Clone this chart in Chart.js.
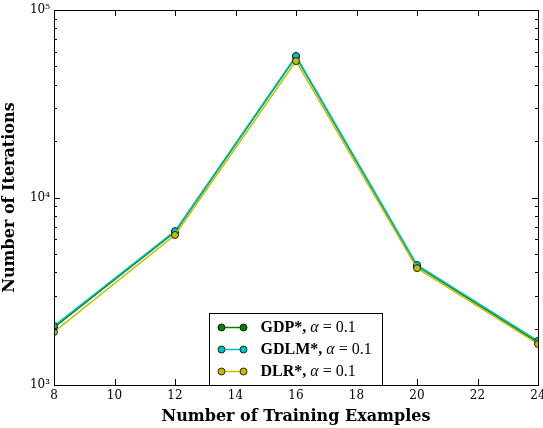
<!DOCTYPE html>
<html>
<head>
<meta charset="utf-8">
<script src="https://cdn.jsdelivr.net/npm/chart.js@4"></script>
<style>
  html, body { margin: 0; padding: 0; background: #fff; }
  #wrap { width: 543px; height: 428px; position: relative; }
</style>
</head>
<body>
<div id="wrap"><canvas id="chart"></canvas></div>
<script>
const trainingExamples = [8, 12, 16, 20, 24];
const gdpIterations = [2030, 6550, 56200, 4310, 1690];
const gdlmIterations = [2065, 6620, 56900, 4370, 1718];
const dlrIterations = [1918, 6310, 53400, 4200, 1655];
const seriesNames = ['GDP*', 'GDLM*', 'DLR*'];
const yMajorTicks = [1000, 10000, 100000];
const supers = { '3': '\u00b3', '4': '\u2074', '5': '\u2075' };

const SERIF = '"DejaVu Serif", "Liberation Serif", serif';
const LEG_FONT = '"Liberation Serif", "DejaVu Serif", serif';

function toPoints(values) {
  return trainingExamples.map((x, i) => ({ x: x, y: values[i] }));
}

function makeSet(label, values, color, order) {
  return {
    label: label,
    data: toPoints(values),
    borderColor: color,
    backgroundColor: color,
    borderWidth: 1.5,
    pointRadius: 3.5,
    pointBorderColor: '#000',
    pointBorderWidth: 0.8,
    pointBackgroundColor: color,
    tension: 0,
    order: order
  };
}

// inward ticks on all four sides + frame + legend box
const mplStyle = {
  id: 'mplStyle',
  afterDraw(chart) {
    const { ctx, chartArea: a, scales } = chart;
    const xs = scales.x, ys = scales.y;
    ctx.save();
    ctx.strokeStyle = '#000';
    ctx.lineWidth = 1;

    // x ticks
    for (let v = 8; v <= 24; v += 2) {
      const px = Math.round(xs.getPixelForValue(v)) + 0.5;
      ctx.beginPath();
      ctx.moveTo(px, a.bottom); ctx.lineTo(px, a.bottom - 6);
      ctx.moveTo(px, a.top); ctx.lineTo(px, a.top + 6);
      ctx.stroke();
    }
    // y ticks, major and minor
    for (let e = 3; e <= 5; e++) {
      for (let m = 1; m <= 9; m++) {
        const v = m * Math.pow(10, e);
        if (v > 100000) break;
        const py = Math.round(ys.getPixelForValue(v)) + 0.5;
        const len = m === 1 ? 6 : 3;
        ctx.beginPath();
        ctx.moveTo(a.left, py); ctx.lineTo(a.left + len, py);
        ctx.moveTo(a.right, py); ctx.lineTo(a.right - len, py);
        ctx.stroke();
      }
    }
    // frame
    ctx.strokeRect(Math.round(a.left) + 0.5, Math.round(a.top) + 0.5,
      Math.round(a.right - a.left), Math.round(a.bottom - a.top));

    // legend
    const bx = 209.5, by = 313.5, bw = 173, bh = Math.round(a.bottom) - 313;
    ctx.fillStyle = '#fff';
    ctx.fillRect(bx, by, bw, bh);
    ctx.strokeStyle = '#000';
    ctx.lineWidth = 1;
    ctx.strokeRect(bx, by, bw, bh);
    chart.data.datasets.forEach((ds, i) => {
      const ry = by + 14 + i * 22;
      ctx.strokeStyle = ds.borderColor;
      ctx.lineWidth = 1.5;
      ctx.beginPath();
      ctx.moveTo(bx + 12, ry); ctx.lineTo(bx + 34, ry);
      ctx.stroke();
      [bx + 12, bx + 34].forEach(cx => {
        ctx.beginPath();
        ctx.arc(cx, ry, 3.5, 0, Math.PI * 2);
        ctx.fillStyle = ds.borderColor;
        ctx.fill();
        ctx.lineWidth = 0.8;
        ctx.strokeStyle = '#000';
        ctx.stroke();
      });
      ctx.fillStyle = '#000';
      ctx.textBaseline = 'middle';
      ctx.textAlign = 'left';
      let tx = bx + 51;
      ctx.font = 'bold 16px ' + LEG_FONT;
      const t1 = ds.label + ', ';
      ctx.fillText(t1, tx, ry);
      tx += ctx.measureText(t1).width;
      ctx.font = 'italic 16px ' + LEG_FONT;
      ctx.fillText('\u03b1', tx, ry);
      tx += ctx.measureText('\u03b1').width;
      ctx.font = '16px ' + LEG_FONT;
      ctx.fillText(' = 0.1', tx, ry);
    });
    ctx.restore();
  }
};

new Chart(document.getElementById('chart'), {
  type: 'line',
  data: {
    datasets: [
      makeSet(seriesNames[0], gdpIterations, '#008000', 2),
      makeSet(seriesNames[1], gdlmIterations, '#00bfbf', 1),
      makeSet(seriesNames[2], dlrIterations, '#bfbf00', 0)
    ]
  },
  options: {
    responsive: true,
    maintainAspectRatio: false,
    animation: false,
    layout: { padding: { top: 10, right: 5, left: 0, bottom: 0 } },
    plugins: { legend: { display: false }, tooltip: { enabled: false } },
    scales: {
      x: {
        type: 'linear',
        min: 8,
        max: 24,
        grid: { display: false, drawTicks: false },
        border: { display: false },
        ticks: {
          stepSize: 2,
          color: '#000',
          padding: 4,
          font: { family: SERIF, size: 12 }
        },
        title: {
          display: true,
          text: 'Number of Training Examples',
          color: '#000',
          padding: { top: 0, bottom: 2 },
          font: { family: SERIF, size: 16, weight: 'bold' }
        },
        afterFit(scale) {
          scale.height = 43;
          scale.paddingRight = 0;
          scale.paddingLeft = 0;
        }
      },
      y: {
        type: 'logarithmic',
        min: 1000,
        max: 100000,
        grid: { display: false, drawTicks: false },
        border: { display: false },
        afterBuildTicks(scale) {
          scale.ticks = yMajorTicks.map(v => ({ value: v }));
        },
        ticks: {
          autoSkip: false,
          color: '#000',
          padding: 4,
          font: { family: SERIF, size: 12 },
          callback: v => '10' + supers[String(Math.round(Math.log10(v)))]
        },
        title: {
          display: true,
          text: 'Number of Iterations',
          color: '#000',
          padding: { top: 0, bottom: 4 },
          font: { family: SERIF, size: 16, weight: 'bold' }
        },
        afterFit(scale) {
          scale.width = 54;
          scale.paddingTop = 0;
          scale.paddingBottom = 0;
        }
      }
    }
  },
  plugins: [mplStyle]
});
</script>
</body>
</html>
